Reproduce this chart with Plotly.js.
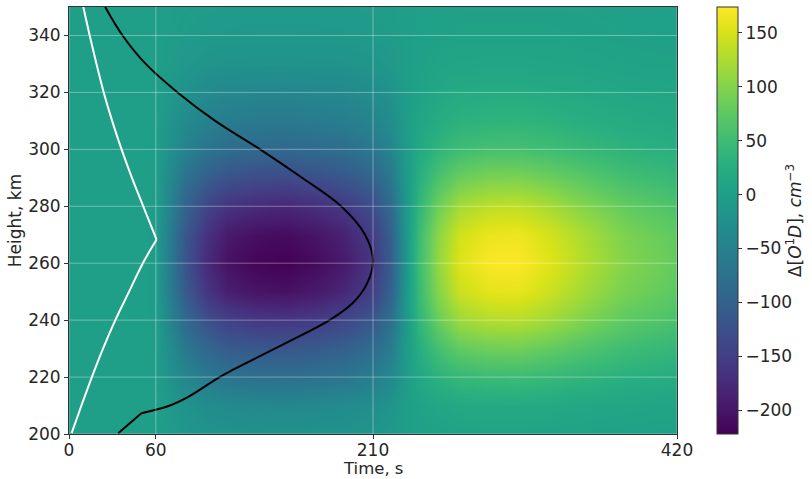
<!DOCTYPE html>
<html>
<head>
<meta charset="utf-8">
<script src="https://cdn.plot.ly/plotly-3.0.1.min.js"></script>
<style>html,body{margin:0;padding:0;background:#fff;}#chart{width:812px;height:479px;}</style>
</head>
<body>
<div id="chart"></div>
<script>
// Time grid (s) and height grid (km) of the field
const times = [0, 50, 60, 70, 80, 95, 110, 130, 150, 170, 190, 210, 222, 232, 242, 255, 270, 290, 310, 330, 355, 385, 420];
const heights = [200, 210, 220, 230, 240, 250, 260, 270, 280, 290, 300, 310, 320, 330, 340, 350];

// Δ[O1D] values, one row per height
const dO1D = [
  [0, 0, -1, -6, -12, -18, -21, -22, -22, -21, -20, -16, -11, -2, 2, 4, 6, 7, 7, 6, 5, 4, 3],
  [0, 0, -1, -10, -20, -30, -35, -37, -38, -36, -33, -27, -19, -3, 5, 11, 16, 17, 17, 16, 13, 10, 8],
  [0, 0, -2, -21, -42, -61, -72, -76, -78, -74, -68, -56, -39, -7, 14, 31, 43, 48, 49, 44, 36, 28, 22],
  [0, 0, -3, -31, -62, -91, -107, -113, -115, -110, -101, -83, -57, -10, 25, 55, 78, 86, 87, 79, 65, 50, 40],
  [0, 0, -4, -43, -86, -126, -148, -157, -160, -153, -140, -115, -79, -14, 38, 83, 116, 129, 131, 119, 98, 75, 60],
  [0, 0, -5, -55, -110, -161, -189, -201, -204, -195, -179, -147, -101, -18, 46, 101, 143, 158, 160, 145, 120, 92, 74],
  [0, 0, -5, -60, -120, -175, -205, -218, -222, -212, -195, -160, -110, -20, 50, 110, 155, 172, 174, 158, 130, 100, 80],
  [0, 0, -5, -57, -114, -166, -195, -207, -211, -201, -185, -152, -105, -19, 48, 105, 147, 163, 165, 150, 124, 95, 76],
  [0, 0, -4, -48, -96, -140, -164, -174, -178, -170, -156, -128, -88, -16, 39, 86, 121, 134, 136, 123, 101, 78, 62],
  [0, 0, -3, -36, -72, -105, -123, -131, -133, -127, -117, -96, -66, -12, 28, 61, 85, 95, 96, 87, 72, 55, 44],
  [0, 0, -2, -24, -48, -70, -82, -87, -89, -85, -78, -64, -44, -8, 17, 36, 51, 57, 57, 52, 43, 33, 26],
  [0, 0, -1, -17, -34, -49, -57, -61, -62, -59, -55, -45, -31, -6, 10, 22, 31, 34, 35, 32, 26, 20, 16],
  [0, 0, -1, -11, -23, -33, -39, -41, -42, -40, -37, -30, -21, -4, 6, 13, 19, 21, 21, 19, 16, 12, 10],
  [0, 0, -1, -6, -12, -18, -21, -22, -22, -21, -20, -16, -11, -2, 3, 7, 9, 10, 10, 9, 8, 6, 5],
  [0, 0, 0, -3, -6, -9, -10, -11, -11, -11, -10, -8, -6, -1, 2, 3, 5, 5, 5, 5, 4, 3, 2],
  [0, 0, 0, -2, -4, -5, -6, -7, -7, -6, -6, -5, -3, -1, 1, 2, 3, 3, 3, 3, 3, 2, 2]
];

// White profile curve: upper branch and lower branch (meeting at the peak)
const whiteUpperT = [9.9, 14.3, 19, 24, 29.8, 36.3, 43.5, 51.3, 60.5];
const whiteUpperH = [350, 340, 330, 320, 310, 300, 290, 280, 268.3];
const whiteLowerT = [60.5, 51, 41.5, 32, 23.5, 15.8, 8.6, 1.8];
const whiteLowerH = [268.3, 260, 250, 240, 230, 220, 210, 200.3];

// Black profile curve: smooth part and short straight foot
const blackT = [25, 37, 53, 75, 101, 132, 161, 188, 204.5, 210, 206, 196, 180, 150, 113, 104, 83, 69.7, 50];
const blackH = [350, 340, 330, 320, 310, 300, 290, 280, 270, 261, 253, 246, 240, 232, 222.5, 220, 213.2, 210, 207.3];
const blackFootT = [50, 34];
const blackFootH = [207.3, 200.3];

// Tick labels
const xTicks = [0, 60, 210, 420];
const yTicks = [200, 220, 240, 260, 280, 300, 320, 340];
const cbTicks = [-200, -150, -100, -50, 0, 50, 100, 150];

const font = {family: 'DejaVu Sans, sans-serif', size: 17, color: '#262626'};
const xTitleFont = {family: 'DejaVu Sans, sans-serif', size: 16.5, color: '#262626'};

function line(x, y, color) {
  return {type: 'scatter', mode: 'lines', x: x, y: y,
    line: {color: color, width: 2, shape: 'spline', smoothing: 1},
    showlegend: false, hoverinfo: 'skip'};
}

const traces = [
  {
    type: 'heatmap', x: times, y: heights, z: dO1D,
    colorscale: 'Viridis', zsmooth: 'best', zmin: -222, zmax: 174,
    colorbar: {
      x: 1.064, xanchor: 'left', xpad: 0, y: 0.5, yanchor: 'middle', len: 1, lenmode: 'fraction',
      ypad: 0, thickness: 21, outlinewidth: 1, outlinecolor: '#333',
      tickvals: cbTicks, ticks: 'outside', ticklen: 4, tickcolor: '#333', tickfont: font,
      title: {text: 'Δ[<i>O</i><sup>1</sup><i>D</i>], <i>cm</i><sup>−3</sup>', side: 'right', font: font}
    },
    hoverinfo: 'skip'
  },
  line(whiteUpperT, whiteUpperH, '#ffffff'),
  line(whiteLowerT, whiteLowerH, '#ffffff'),
  line(blackT, blackH, '#000000'),
  line(blackFootT, blackFootH, '#000000')
];

const shapes = [];
xTicks.forEach(v => shapes.push({type: 'line', xref: 'x', yref: 'paper', x0: v, x1: v, y0: 0, y1: 1, layer: 'above', line: {color: 'rgba(255,255,255,0.35)', width: 1}}));
yTicks.forEach(v => shapes.push({type: 'line', xref: 'paper', yref: 'y', x0: 0, x1: 1, y0: v, y1: v, layer: 'above', line: {color: 'rgba(255,255,255,0.35)', width: 1}}));

const layout = {
  width: 812, height: 479,
  margin: {l: 69, r: 134, t: 7, b: 45},
  paper_bgcolor: '#ffffff', plot_bgcolor: '#ffffff',
  font: font, showlegend: false,
  xaxis: {
    range: [0, 420], tickvals: xTicks, ticks: 'outside', ticklen: 4, tickcolor: '#333',
    showgrid: false, zeroline: false, showline: true, linecolor: '#333', linewidth: 1, mirror: true,
    tickfont: font, automargin: false, ticklabelstandoff: -3
  },
  yaxis: {
    range: [200, 350], tickvals: yTicks, ticks: 'outside', ticklen: 4, tickcolor: '#333',
    showgrid: false, zeroline: false, showline: true, linecolor: '#333', linewidth: 1, mirror: true,
    tickfont: font, automargin: false,
    title: {text: 'Height, km', font: font, standoff: 2}
  },
  annotations: [{
    text: 'Time, s', xref: 'paper', yref: 'paper', x: 0.5, y: 0, xanchor: 'center', yanchor: 'top',
    yshift: -24, showarrow: false, font: xTitleFont, borderpad: 0
  }],
  shapes: shapes
};

Plotly.newPlot('chart', traces, layout, {displayModeBar: false, staticPlot: true});
</script>
</body>
</html>
